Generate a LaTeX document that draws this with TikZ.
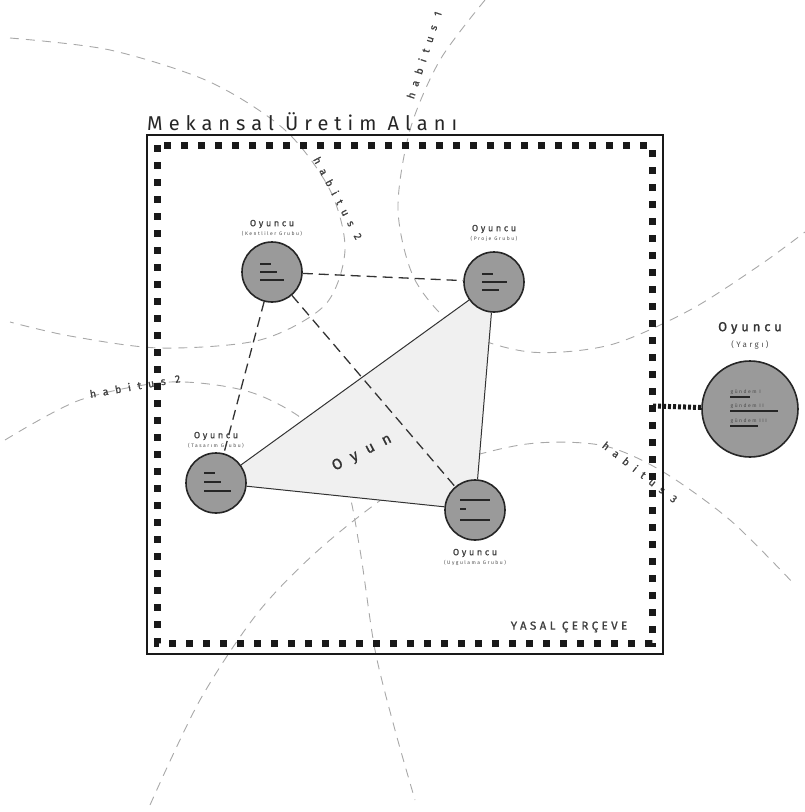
\documentclass[tikz,border=0pt]{standalone}
\usepackage{fontspec}
\setmainfont{Fira Sans}
\newfontfamily\spaced[LetterSpace=30]{Fira Sans}
\newfontfamily\spacedb[LetterSpace=30,FakeBold=1.2]{Fira Sans}
\newfontfamily\spacedw[LetterSpace=65,FakeBold=1.2]{Fira Sans}
\usetikzlibrary{calc}
\definecolor{nodegrey}{HTML}{9A9A9A}
\definecolor{habgrey}{HTML}{A8A8A8}
\tikzset{
  player/.style={circle, draw=black!85, line width=1.6pt, fill=nodegrey, minimum size=60pt, inner sep=0pt},
  bigplayer/.style={player, minimum size=96pt},
  bar/.style={line width=2.6pt, black!85},
  solidc/.style={line width=1pt, black!80},
  dashc/.style={line width=1.3pt, black!80, dash pattern=on 10pt off 6pt},
  hab/.style={line width=0.9pt, habgrey, dash pattern=on 9pt off 7pt},
  hablabel/.style={font=\spacedw\fontsize{10.5}{10.5}\selectfont, text=black!75},
  lab/.style={font=\spacedb\fontsize{9}{9}\selectfont, text=black!75},
  sublab/.style={font=\spaced\fontsize{5}{5}\selectfont, text=black!70},
}
\begin{document}
\begin{tikzpicture}[x=1pt,y=-1pt]
\useasboundingbox (0,0) rectangle (805,812);
% habitus curves
\draw[hab] plot[smooth] coordinates {(10,38) (110,50) (210,82) (285,130) (330,190) (345,250) (325,305) (260,340) (160,348) (70,336) (10,322)};
\draw[hab] plot[smooth] coordinates {(485,0) (440,60) (410,130) (398,210) (415,280) (460,330) (530,352) (610,345) (690,310) (760,265) (805,232)};
\draw[hab] plot[smooth] coordinates {(5,440) (80,400) (170,382) (250,392) (310,425) (345,480) (360,550) (375,650) (395,730) (415,800)};
\draw[hab] plot[smooth] coordinates {(150,805) (200,700) (260,610) (330,540) (420,475) (520,445) (600,445) (660,470) (730,520) (795,585)};
% habitus labels
\node[hablabel, rotate=-62] (h2a) at (338,198) {habitus 2};
\node[hablabel, rotate=72] (h1) at (424,55) {habitus 1};
\node[hablabel, rotate=10] (h2b) at (135,386) {habitus 2};
\node[hablabel, rotate=-38] (h3) at (640,472) {habitus 3};
% frames
\draw[line width=2.5pt, black!90] (147,135) rectangle (663,654);
\draw[line width=7pt, black!90, dash pattern=on 7pt off 10pt] (157,145) rectangle (652,643);
\node[font=\spaced\fontsize{20}{20}\selectfont, text=black!85, anchor=south west, inner sep=0pt] (title) at (147,131) {Mekansal Üretim Alanı};
\node[font=\spacedb\fontsize{11.5}{11.5}\selectfont, text=black!75] (yasal) at (569,627) {YASAL ÇERÇEVE};
% positions
\coordinate (ptl) at (272,272);
\coordinate (ptr) at (494,282);
\coordinate (plf) at (216,483);
\coordinate (pbt) at (475,510);
% game triangle
\fill[black!6] (plf) -- (ptr) -- (pbt) -- cycle;
\node[font=\spacedw\fontsize{15}{15}\selectfont, text=black!80, rotate=27] (oyun) at (362,453) {Oyun};
% players
\node[player] (tl) at (ptl) {};
\node[player] (tr) at (ptr) {};
\node[player] (lf) at (plf) {};
\node[player] (bt) at (pbt) {};
\node[bigplayer] (rt) at (750,409) {};
% connectors
\draw[solidc] (lf) -- (tr);
\draw[solidc] (tr) -- (bt);
\draw[solidc] (lf) -- (bt);
\draw[dashc] (tl) -- (tr);
\draw[dashc] (tl) -- (lf);
\draw[dashc] (tl) -- (bt);
\coordinate (fe) at (653,406);
\draw[line width=5pt, black!90, dash pattern=on 3pt off 2pt] (fe) -- (rt);
% bars inside
\draw[bar] ($(tl)+(-12,-8)$) -- ++(11,0);
\draw[bar] ($(tl)+(-12,0)$) -- ++(17,0);
\draw[bar] ($(tl)+(-12,8)$) -- ++(24,0);
\draw[bar] ($(tr)+(-12,-8)$) -- ++(11,0);
\draw[bar] ($(tr)+(-12,0)$) -- ++(25,0);
\draw[bar] ($(tr)+(-12,8)$) -- ++(17,0);
\draw[bar] ($(lf)+(-12,-10)$) -- ++(11,0);
\draw[bar] ($(lf)+(-12,-1)$) -- ++(17,0);
\draw[bar] ($(lf)+(-12,8)$) -- ++(27,0);
\draw[bar] ($(bt)+(-15,-10)$) -- ++(30,0);
\draw[bar] ($(bt)+(-15,-1)$) -- ++(6,0);
\draw[bar] ($(bt)+(-15,10)$) -- ++(30,0);
\foreach \dy/\len/\t in {-12/20/I, 2/48/II, 17/28/III}{
  \node[sublab, anchor=south west, inner sep=0.5pt] at ($(rt)+(-20,\dy-2)$) {gündem \t};
  \draw[line width=2pt, black!85] ($(rt)+(-20,\dy)$) -- ++(\len,0);
}
% labels
\node[lab] (tll) at (272,224) {Oyuncu};
\node[sublab] (tls) at (272,234) {(Kentliler Grubu)};
\node[lab] (trl) at (494,229) {Oyuncu};
\node[sublab] (trs) at (494,239) {(Proje Grubu)};
\node[lab] (lfl) at (216,436) {Oyuncu};
\node[sublab] (lfs) at (216,446) {(Tasarım Grubu)};
\node[lab] (btl) at (475,553) {Oyuncu};
\node[sublab] (bts) at (475,563) {(Uygulama Grubu)};
\node[font=\spacedb\fontsize{13}{13}\selectfont, text=black!80] (rtl) at (750,328) {Oyuncu};
\node[font=\spaced\fontsize{8}{8}\selectfont, text=black!70] (rts) at (750,345) {(Yargı)};
\end{tikzpicture}
\end{document}
